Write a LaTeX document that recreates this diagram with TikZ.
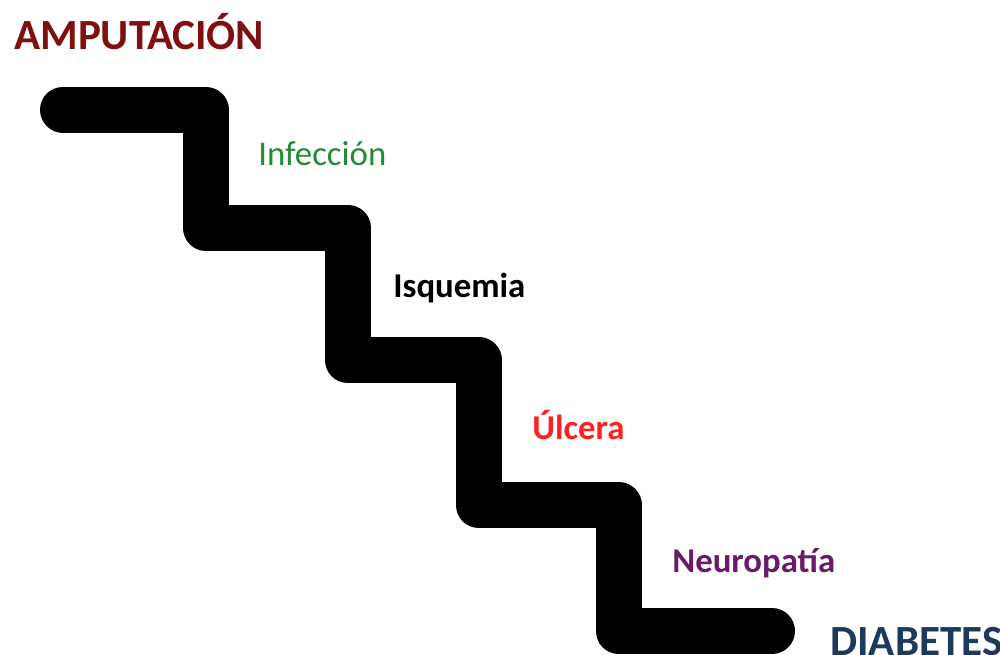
\documentclass[tikz,border=0pt]{standalone}
\usepackage{fontspec}
\setmainfont{Carlito}
\definecolor{amputred}{RGB}{128,16,16}
\definecolor{infgreen}{RGB}{34,139,52}
\definecolor{ulcred}{RGB}{255,32,32}
\definecolor{neuropurple}{RGB}{106,26,104}
\definecolor{diabblue}{RGB}{28,58,94}
\begin{document}
\begin{tikzpicture}[x=0.02cm,y=-0.02cm,
	label/.style={inner sep=0pt,anchor=base west,font=\bfseries\fontsize{19.8pt}{22pt}\selectfont},
	big/.style={inner sep=0pt,anchor=base west,font=\bfseries\fontsize{24.5pt}{27pt}\selectfont}]
	\useasboundingbox (0,0) rectangle (1000,654);
	\draw[line width=46*0.02cm,line cap=round,line join=round]
	(63,109.5)--(205.5,109.5)--(205.5,227.5)--(347.5,227.5)--(347.5,360)
	--(478.5,360)--(478.5,505)--(618.5,505)--(618.5,631)--(772,631);
	\node[big,amputred] (amput) at (14,49) {AMPUTACIÓN};
	\node[label,infgreen,font=\fontsize{19.8pt}{22pt}\selectfont] (infec) at (258,165) {Infección};
	\node[label] (isq) at (393,297) {Isquemia};
	\node[label,ulcred] (ulc) at (532,439) {Úlcera};
	\node[label,neuropurple] (neuro) at (672,572) {Neuropatía};
	\node[big,diabblue] (diab) at (830,655) {DIABETES};
	%escalera: diabetes -> amputacion
\end{tikzpicture}
\end{document}
